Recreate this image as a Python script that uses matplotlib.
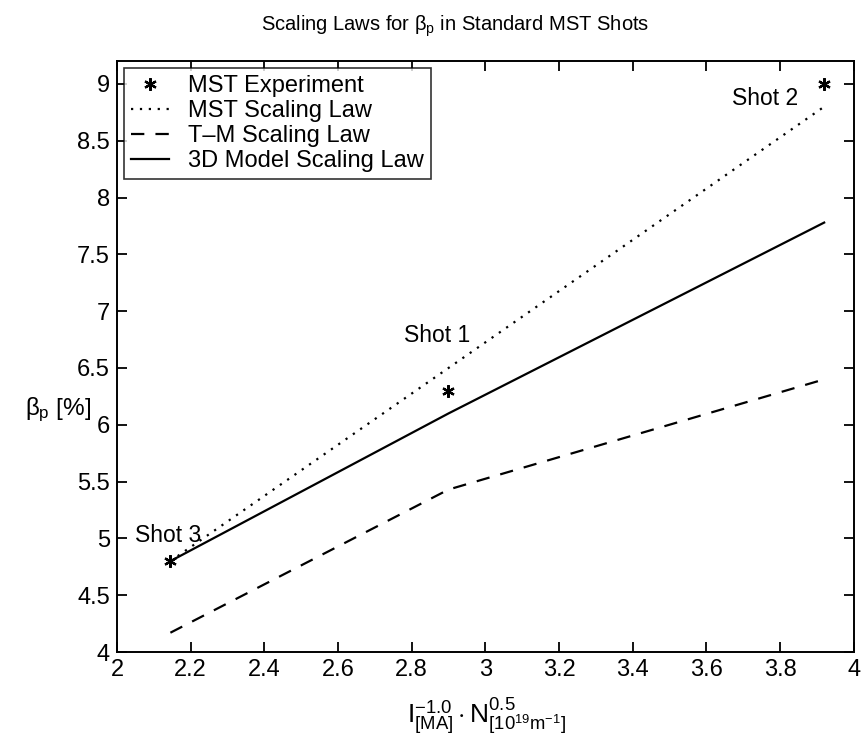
import matplotlib
matplotlib.use("Agg")
import matplotlib.pyplot as plt

plt.rcParams['font.family'] = ['Liberation Sans', 'DejaVu Sans']
plt.rcParams['mathtext.fontset'] = 'custom'
plt.rcParams['mathtext.rm'] = 'Liberation Sans'
plt.rcParams['mathtext.it'] = 'Liberation Sans'

# 数据
x_shots = [2.145, 2.9, 3.92]
beta_exp = [4.8, 6.3, 9.0]
beta_mst = [4.8, 6.5, 8.8]
beta_tm = [4.17, 5.43, 6.4]
beta_3d = [4.8, 6.1, 7.78]
shot_labels = ["Shot 3", "Shot 1", "Shot 2"]
label_pos = [(2.05, 5.03), (2.78, 6.79), (3.67, 8.87)]

fig = plt.figure(figsize=(8.64, 7.38), dpi=100)
ax = fig.add_axes([0.1354, 0.1165, 0.8526, 0.8005])

ax.plot(x_shots, beta_exp, linestyle='none', marker=(6, 2, 0), markersize=9,
        markeredgewidth=1.6, color='black', label='MST Experiment')
ax.plot(x_shots, beta_mst, linestyle=(0, (1, 3)), color='black', linewidth=1.6,
        label='MST Scaling Law')
ax.plot(x_shots, beta_tm, linestyle=(0, (6, 5)), color='black', linewidth=1.6,
        label='T\u2013M Scaling Law')
ax.plot(x_shots, beta_3d, linestyle='-', color='black', linewidth=1.6,
        label='3D Model Scaling Law')

for txt, (tx, ty) in zip(shot_labels, label_pos):
    ax.text(tx, ty, txt, fontsize=16.5, va='center', ha='left')

ax.set_xlim(2, 4)
ax.set_ylim(4, 9.2)
ax.set_xticks([2, 2.2, 2.4, 2.6, 2.8, 3, 3.2, 3.4, 3.6, 3.8, 4])
ax.set_xticklabels(['2', '2.2', '2.4', '2.6', '2.8', '3', '3.2', '3.4', '3.6', '3.8', '4'])
ax.set_yticks([4, 4.5, 5, 5.5, 6, 6.5, 7, 7.5, 8, 8.5, 9])
ax.set_yticklabels(['4', '4.5', '5', '5.5', '6', '6.5', '7', '7.5', '8', '8.5', '9'])
ax.tick_params(axis='both', direction='in', top=True, right=True, labelsize=17,
               length=7, width=1.3, pad=5)
for s in ax.spines.values():
    s.set_linewidth(1.4)

ax.set_title(r'Scaling Laws for $\beta_\mathrm{p}$ in Standard MST Shots', fontsize=14.5,
             x=0.459, pad=22)
ax.set_xlabel(r'$\mathrm{I}^{-1.0}_{[\mathrm{MA}]}\cdot\mathrm{N}^{0.5}_{[10^{19}\mathrm{m}^{-1}]}$',
              fontsize=19)
ax.xaxis.set_label_coords(0.502, -0.075)
ax.xaxis.label.set_va('top')
ax.set_ylabel(r'$\beta_\mathrm{p}$ [%]', fontsize=17.5, rotation=0, ha='center', va='center')
ax.yaxis.set_label_coords(-0.08, 0.41)

leg = ax.legend(loc='upper left', fontsize=17, frameon=True, fancybox=False,
                edgecolor='black', borderaxespad=0.3, handlelength=1.6,
                labelspacing=0.12, borderpad=0.3, handletextpad=0.8)
leg.get_frame().set_linewidth(1.2)

fig.savefig('out.png', dpi=100)
